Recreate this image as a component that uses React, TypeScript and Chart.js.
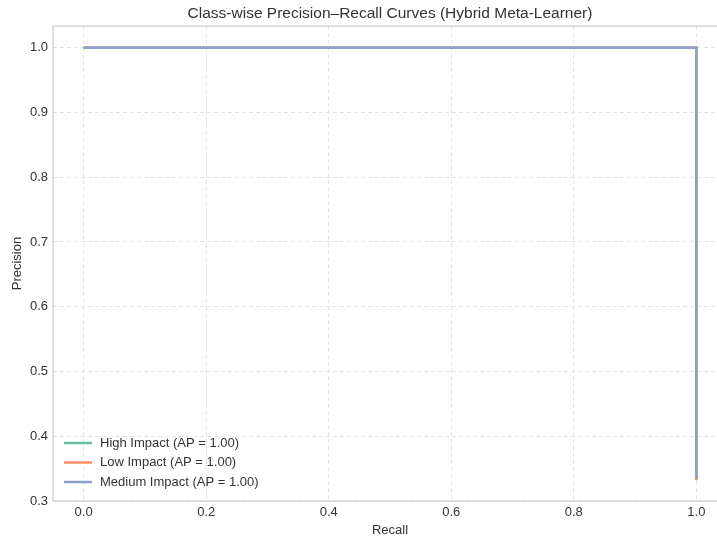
import React, { useEffect, useRef } from 'react';
import { Chart, registerables } from 'chart.js';

Chart.register(...registerables);

const chartTitle = 'Class-wise Precision–Recall Curves (Hybrid Meta-Learner)';
const seriesLabels = ['High Impact (AP = 1.00)', 'Low Impact (AP = 1.00)', 'Medium Impact (AP = 1.00)'];
const seriesColors = ['#66c2a5', '#fc8d62', '#8da0cb'];
const highRecall = [0, 1, 1];
const highPrecision = [1, 1, 0.334];
const lowRecall = [0, 1, 1];
const lowPrecision = [1, 1, 0.332];
const mediumRecall = [0, 1, 1];
const mediumPrecision = [1, 1, 0.334];
const xTicks = [0, 0.2, 0.4, 0.6, 0.8, 1.0];
const yTicks = [0.3, 0.4, 0.5, 0.6, 0.7, 0.8, 0.9, 1.0];

const FONT = "'Liberation Sans', Arial, sans-serif";
const TEXT = '#333333';

const toPoints = (xs: number[], ys: number[]) => xs.map((x, i) => ({ x, y: ys[i] }));

const titleCenterPlugin = {
  id: 'titleCenter',
  afterLayout(chart: any) {
    const tb = chart.titleBlock;
    if (tb) {
      tb.left = chart.chartArea.left;
      tb.right = chart.chartArea.right;
    }
  },
};

const framePlugin = {
  id: 'frameBox',
  afterDatasetsDraw(chart: any) {
    const { ctx, chartArea } = chart;
    ctx.save();
    ctx.strokeStyle = '#cccccc';
    ctx.lineWidth = 1.25;
    ctx.strokeRect(chartArea.left, chartArea.top, chartArea.right - chartArea.left, chartArea.bottom - chartArea.top);
    ctx.restore();
  },
};

const legendPlugin = {
  id: 'innerLegend',
  afterDraw(chart: any) {
    const { ctx, chartArea } = chart;
    const ds = chart.data.datasets;
    const n = ds.length;
    ctx.save();
    ctx.font = `13px ${FONT}`;
    ctx.textBaseline = 'middle';
    ctx.textAlign = 'left';
    for (let i = 0; i < n; i++) {
      const y = chartArea.bottom - 19 - (n - 1 - i) * 19.5;
      const x0 = chartArea.left + 11;
      ctx.strokeStyle = ds[i].borderColor;
      ctx.lineWidth = 2.5;
      ctx.beginPath();
      ctx.moveTo(x0, y);
      ctx.lineTo(x0 + 28, y);
      ctx.stroke();
      ctx.fillStyle = TEXT;
      ctx.fillText(ds[i].label, x0 + 36, y);
    }
    ctx.restore();
  },
};

export default function App() {
  const ref = useRef<HTMLCanvasElement | null>(null);
  useEffect(() => {
    if (!ref.current) return;
    const recalls = [highRecall, lowRecall, mediumRecall];
    const precisions = [highPrecision, lowPrecision, mediumPrecision];
    const orders = [3, 2, 1];
    const chart = new Chart(ref.current, {
      type: 'line',
      data: {
        datasets: seriesLabels.map((label, i) => ({
          label,
          data: toPoints(recalls[i], precisions[i]),
          borderColor: seriesColors[i],
          backgroundColor: seriesColors[i],
          borderWidth: 2.5,
          pointRadius: 0,
          tension: 0,
          fill: false,
          order: orders[i],
        })),
      },
      options: {
        responsive: false,
        animation: false,
        devicePixelRatio: 1,
        layout: { padding: { left: 0, right: 13, top: 0, bottom: 0 } },
        plugins: {
          legend: { display: false },
          tooltip: { enabled: false },
          title: {
            display: true,
            text: chartTitle,
            color: TEXT,
            font: { size: 15.5, family: FONT, weight: 'normal' },
            padding: { top: 4, bottom: 3.5 },
          },
        },
        scales: {
          x: {
            type: 'linear',
            min: -0.05,
            max: 1.05,
            afterBuildTicks: (s: any) => {
              s.ticks = xTicks.map((v) => ({ value: v }));
            },
            afterFit: (s: any) => {
              s.height = 37;
            },
            ticks: {
              callback: (v: any) => Number(v).toFixed(1),
              color: TEXT,
              font: { size: 13, family: FONT },
              padding: 4,
              maxRotation: 0,
              autoSkip: false,
            },
            grid: { color: '#e3e3e3', lineWidth: 1, drawTicks: false },
            border: { display: false, dash: [4, 3] },
            title: {
              display: true,
              text: 'Recall',
              color: TEXT,
              font: { size: 13, family: FONT },
              padding: { top: 1, bottom: 0 },
            },
          },
          y: {
            type: 'linear',
            min: 0.3,
            max: 1.0333,
            afterBuildTicks: (s: any) => {
              s.ticks = yTicks.map((v) => ({ value: v }));
            },
            afterFit: (s: any) => {
              s.width = 53;
            },
            ticks: {
              callback: (v: any) => Number(v).toFixed(1),
              color: TEXT,
              font: { size: 13, family: FONT },
              padding: 5,
              autoSkip: false,
            },
            grid: { color: '#e3e3e3', lineWidth: 1, drawTicks: false },
            border: { display: false, dash: [4, 3] },
            title: {
              display: true,
              text: 'Precision',
              color: TEXT,
              font: { size: 13, family: FONT },
              padding: { top: 9.5, bottom: 0 },
            },
          },
        },
      },
      plugins: [titleCenterPlugin, framePlugin, legendPlugin],
    } as any);
    return () => chart.destroy();
  }, []);

  return (
    <div
      style={{
        position: 'fixed',
        left: 0,
        top: 0,
        width: 717,
        height: 538,
        overflow: 'hidden',
        background: '#ffffff',
      }}
    >
      <canvas ref={ref} width={740} height={538} style={{ width: 740, height: 538, display: 'block' }} />
    </div>
  );
}
